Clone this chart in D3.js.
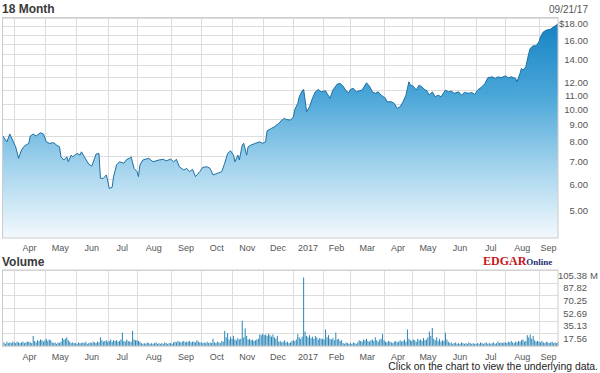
<!DOCTYPE html>
<html>
<head>
<meta charset="utf-8">
<script src="https://cdn.jsdelivr.net/npm/d3@7"></script>
<style>
  body { margin: 0; background: #fff; }
  svg { display: block; font-family: "Liberation Sans", Arial, sans-serif; }
</style>
</head>
<body>
<div id="chart"></div>
<script>
// trading calendar of the 18 month window
const startDate = "2016-03-21";
const endDate = "2017-09-21";
const holidays = ["2016-03-25", "2016-05-30", "2016-07-04", "2016-09-05", "2016-11-24", "2016-12-26",
  "2017-01-02", "2017-01-16", "2017-02-20", "2017-04-14", "2017-05-29", "2017-07-04", "2017-09-04"];

// closing price
const priceSeries = [
  ["2016-03-21", 8.05], ["2016-03-24", 7.71], ["2016-03-29", 8.13], ["2016-04-04", 7.45], ["2016-04-06", 6.89],
  ["2016-04-08", 7.29], ["2016-04-12", 7.49], ["2016-04-15", 7.63], ["2016-04-18", 8.02], ["2016-04-20", 8.13],
  ["2016-04-22", 8.02], ["2016-04-27", 8.20], ["2016-04-29", 8.13], ["2016-05-03", 7.71], ["2016-05-05", 7.63],
  ["2016-05-10", 7.66], ["2016-05-12", 7.54], ["2016-05-16", 7.45], ["2016-05-17", 6.96], ["2016-05-19", 6.81],
  ["2016-05-23", 6.96], ["2016-05-24", 6.73], ["2016-05-26", 7.04], ["2016-05-27", 6.96], ["2016-06-02", 7.12],
  ["2016-06-06", 7.04], ["2016-06-07", 7.20], ["2016-06-09", 6.96], ["2016-06-14", 6.62], ["2016-06-16", 6.53],
  ["2016-06-20", 6.89], ["2016-06-21", 7.09], ["2016-06-23", 7.12], ["2016-06-24", 6.01], ["2016-06-28", 6.01],
  ["2016-06-30", 6.15], ["2016-07-01", 5.91], ["2016-07-05", 5.61], ["2016-07-07", 5.65], ["2016-07-08", 6.08],
  ["2016-07-12", 6.58], ["2016-07-14", 6.73], ["2016-07-19", 6.66], ["2016-07-21", 6.84], ["2016-07-25", 6.89],
  ["2016-07-26", 6.96], ["2016-07-28", 6.43], ["2016-08-01", 6.29], ["2016-08-02", 6.08], ["2016-08-03", 6.58],
  ["2016-08-05", 6.81], ["2016-08-11", 6.89], ["2016-08-16", 6.73], ["2016-08-22", 6.81], ["2016-08-25", 6.84],
  ["2016-08-29", 6.77], ["2016-09-01", 6.85], ["2016-09-06", 6.73], ["2016-09-08", 6.84], ["2016-09-12", 6.50],
  ["2016-09-15", 6.36], ["2016-09-19", 6.43], ["2016-09-21", 6.29], ["2016-09-23", 6.39], ["2016-09-27", 6.08],
  ["2016-09-30", 6.29], ["2016-10-04", 6.48], ["2016-10-07", 6.50], ["2016-10-11", 6.43], ["2016-10-13", 6.15],
  ["2016-10-19", 6.24], ["2016-10-21", 6.29], ["2016-10-25", 6.66], ["2016-10-27", 7.12], ["2016-10-31", 7.25],
  ["2016-11-02", 7.04], ["2016-11-03", 6.73], ["2016-11-07", 7.04], ["2016-11-08", 6.81], ["2016-11-10", 7.54],
  ["2016-11-11", 7.63], ["2016-11-15", 7.04], ["2016-11-16", 7.45], ["2016-11-18", 7.54], ["2016-11-23", 7.63],
  ["2016-11-29", 7.71], ["2016-12-01", 7.63], ["2016-12-05", 7.71], ["2016-12-06", 8.31], ["2016-12-09", 8.45],
  ["2016-12-13", 8.54], ["2016-12-16", 8.74], ["2016-12-20", 8.94], ["2016-12-22", 9.05], ["2016-12-23", 8.98],
  ["2016-12-29", 8.94], ["2017-01-03", 9.14], ["2017-01-04", 9.62], ["2017-01-06", 10.02], ["2017-01-09", 10.48],
  ["2017-01-11", 10.92], ["2017-01-12", 11.02], ["2017-01-13", 10.25], ["2017-01-17", 9.46], ["2017-01-19", 9.79],
  ["2017-01-23", 10.37], ["2017-01-25", 10.84], ["2017-01-27", 11.02], ["2017-01-31", 10.84], ["2017-02-03", 10.92],
  ["2017-02-06", 10.73], ["2017-02-08", 10.37], ["2017-02-10", 10.97], ["2017-02-15", 11.43], ["2017-02-17", 11.48],
  ["2017-02-22", 11.27], ["2017-02-24", 10.92], ["2017-02-28", 10.77], ["2017-03-01", 11.02], ["2017-03-03", 11.10],
  ["2017-03-07", 10.84], ["2017-03-09", 10.92], ["2017-03-13", 10.97], ["2017-03-16", 11.53], ["2017-03-20", 11.27],
  ["2017-03-22", 10.84], ["2017-03-24", 10.73], ["2017-03-28", 10.84], ["2017-03-30", 10.60], ["2017-04-04", 10.37],
  ["2017-04-05", 10.13], ["2017-04-10", 10.13], ["2017-04-12", 10.02], ["2017-04-17", 9.68], ["2017-04-19", 9.79],
  ["2017-04-21", 10.13], ["2017-04-25", 10.60], ["2017-04-27", 11.61], ["2017-04-28", 11.35], ["2017-05-02", 11.27],
  ["2017-05-04", 10.97], ["2017-05-08", 11.35], ["2017-05-11", 11.10], ["2017-05-12", 10.97], ["2017-05-15", 10.97],
  ["2017-05-17", 10.60], ["2017-05-19", 10.84], ["2017-05-23", 10.48], ["2017-05-25", 10.60], ["2017-05-30", 10.48],
  ["2017-06-02", 10.97], ["2017-06-06", 10.84], ["2017-06-08", 10.90], ["2017-06-12", 10.73], ["2017-06-15", 10.84],
  ["2017-06-19", 10.60], ["2017-06-21", 10.80], ["2017-06-26", 10.73], ["2017-06-28", 10.80], ["2017-06-30", 10.65],
  ["2017-07-05", 10.97], ["2017-07-10", 11.22], ["2017-07-12", 11.48], ["2017-07-14", 11.93], ["2017-07-19", 12.01],
  ["2017-07-21", 11.88], ["2017-07-25", 12.01], ["2017-07-27", 11.93], ["2017-08-01", 12.09], ["2017-08-03", 11.93],
  ["2017-08-07", 12.01], ["2017-08-10", 11.88], ["2017-08-11", 11.61], ["2017-08-15", 12.29], ["2017-08-16", 12.72],
  ["2017-08-17", 12.57], ["2017-08-21", 12.86], ["2017-08-23", 14.09], ["2017-08-24", 14.58], ["2017-08-28", 14.84],
  ["2017-08-30", 14.84], ["2017-09-01", 15.25], ["2017-09-05", 15.78], ["2017-09-07", 16.32], ["2017-09-11", 16.51],
  ["2017-09-14", 16.63], ["2017-09-18", 16.89], ["2017-09-20", 17.09], ["2017-09-21", 17.28]
];

// daily volume in millions, one row per month
const volumeSeries = [
  4, 5, 3, 6, 4, 5, 4, 6,
  5, 4, 6, 5, 4, 5, 6, 4, 5, 6, 6, 5, 4, 14, 7, 5, 8, 7, 9, 8, 6,
  8, 10, 7, 9, 8, 5, 4, 5, 3, 5, 4, 6, 11, 9, 10, 12, 8, 6, 4, 5, 4,
  4, 3, 5, 4, 4, 5, 4, 6, 3, 4, 5, 4, 6, 5, 4, 6, 5, 12, 8, 6, 7, 8,
  6, 7, 9, 6, 8, 7, 8, 6, 7, 9, 18.5, 7, 6, 9, 7, 6, 6, 21, 9, 8,
  8, 7, 6, 4, 3, 4, 3, 5, 4, 3, 4, 3, 4, 5, 3, 4, 3, 4, 3, 5, 4, 3, 4,
  4, 3, 5, 6, 5, 7, 6, 5, 6, 7, 5, 6, 6, 7, 5, 6, 6, 5, 8, 6, 5,
  5, 4, 5, 4, 6, 4, 5, 4, 10, 5, 4, 6, 5, 4, 7, 6, 21, 12, 18, 9, 13,
  10, 14, 9, 8, 11, 9, 10, 35, 12, 24.5, 14, 9, 10, 8, 9, 7, 8, 9, 10, 16, 15,
  17, 15, 16, 14, 17, 15, 13, 16, 12, 10, 14, 6, 7, 5, 6, 8, 5, 6, 4, 5, 7,
  8, 7, 9, 16.6, 12, 10, 13, 95, 20, 14, 12, 15, 11, 13, 10, 14, 12, 9, 11, 10,
  10, 9, 23, 12, 15, 10, 9, 11, 8, 18.5, 9, 10, 7, 8, 4, 3, 5, 4, 3,
  4, 3, 5, 4, 3, 5, 8, 7, 6, 9, 8, 10, 7, 6, 8, 9, 7, 12, 8, 6, 9, 10, 16.6,
  8, 6, 5, 7, 6, 5, 4, 6, 7, 5, 6, 8, 6, 7, 9, 6, 23, 10, 8,
  7, 9, 8, 6, 10, 8, 9, 7, 11, 8, 9, 12, 20, 14, 25, 10, 8, 12, 7, 10, 6, 8,
  7, 18.5, 9, 6, 4, 5, 3, 4, 5, 3, 4, 3, 5, 4, 3, 4, 3, 5, 4, 3, 4, 3,
  3, 4, 3, 5, 4, 3, 4, 5, 3, 4, 3, 4, 5, 3, 4, 6, 4, 5, 4, 5,
  5, 4, 6, 5, 7, 5, 4, 6, 5, 7, 6, 8, 9, 6, 7, 15, 12, 16, 10, 14, 8, 6, 7,
  6, 5, 7, 5, 4, 6, 5, 4, 5, 6, 4, 5, 4, 6
];

const monthNames = ["2017", "Feb", "Mar", "Apr", "May", "Jun", "Jul", "Aug", "Sep", "Oct", "Nov", "Dec"];
const priceTicks = [5, 6, 7, 8, 9, 10, 11, 12, 14, 16, 18];
const priceGrid = [5, 6, 7, 8, 9, 10, 11, 12, 13, 14, 15, 16, 17, 18];
const volumeTicks = [17.56, 35.13, 52.69, 70.25, 87.82, 105.38];

const W = 600, H = 373;
const left = 2.5, right = 558;
const pTop = 17.5, pBottom = 238;
const vTop = 270, vBottom = 346;

const parse = d3.timeParse("%Y-%m-%d");
const fmt = d3.timeFormat("%Y-%m-%d");
const holidaySet = new Set(holidays);
const tradingDays = d3.timeDay.range(parse(startDate), d3.timeDay.offset(parse(endDate), 1))
  .filter(d => d.getDay() !== 0 && d.getDay() !== 6 && !holidaySet.has(fmt(d)));
const dayIndex = new Map(tradingDays.map((d, i) => [fmt(d), i]));

const x = d3.scaleLinear().domain([0, tradingDays.length - 1]).range([left, right]);
const y = d3.scaleLog().domain([4, 18]).range([pBottom, pTop]);
const yv = d3.scaleLinear().domain([0, 105.38]).range([vBottom, vTop]);

// first trading day of each month -> grid lines, labels centred between them
const monthStarts = [];
tradingDays.forEach((d, i) => {
  if (i > 0 && d.getMonth() !== tradingDays[i - 1].getMonth()) monthStarts.push(i);
});
const monthLabels = monthStarts.map((s, k) => {
  const e = k + 1 < monthStarts.length ? monthStarts[k + 1] : tradingDays.length - 1;
  return { pos: (s + e) / 2, text: monthNames[tradingDays[s].getMonth()] };
});

const svg = d3.select("#chart").append("svg")
  .attr("width", W).attr("height", H)
  .attr("viewBox", `0 0 ${W} ${H}`);

const defs = svg.append("defs");
const grad = defs.append("linearGradient")
  .attr("id", "areaFill")
  .attr("gradientUnits", "userSpaceOnUse")
  .attr("x1", 0).attr("y1", pTop).attr("x2", 0).attr("y2", pBottom);
grad.append("stop").attr("offset", "0%").attr("stop-color", "#1280c2");
grad.append("stop").attr("offset", "35%").attr("stop-color", "#4aa6d8");
grad.append("stop").attr("offset", "70%").attr("stop-color", "#a9d6ee");
grad.append("stop").attr("offset", "100%").attr("stop-color", "#f3f9fd");

defs.append("clipPath").attr("id", "priceClip")
  .append("rect").attr("x", left).attr("y", pTop).attr("width", right - left).attr("height", pBottom - pTop);

function panelGrid(top, bottom, yLines) {
  const g = svg.append("g");
  g.selectAll("line.h").data(yLines).enter().append("line")
    .attr("x1", left).attr("x2", right)
    .attr("y1", d => Math.round(d) + 0.5).attr("y2", d => Math.round(d) + 0.5)
    .attr("stroke", "#dddddd").attr("stroke-width", 1);
  g.selectAll("line.v").data(monthStarts).enter().append("line")
    .attr("x1", d => Math.round(x(d)) + 0.5).attr("x2", d => Math.round(x(d)) + 0.5)
    .attr("y1", top).attr("y2", bottom)
    .attr("stroke", "#dddddd").attr("stroke-width", 1);
  return g;
}

function monthAxis(yPos) {
  svg.append("g").selectAll("text").data(monthLabels).enter().append("text")
    .attr("x", d => x(d.pos))
    .attr("y", yPos)
    .attr("text-anchor", "middle")
    .attr("font-size", 9)
    .attr("fill", "#555")
    .text(d => d.text);
}

// ---- price panel
panelGrid(pTop, pBottom, priceGrid.map(v => y(v)));

const pts = priceSeries.map(([d, v]) => ({ i: dayIndex.get(d), v }));
const area = d3.area().x(d => x(d.i)).y0(pBottom).y1(d => y(d.v));
const line = d3.line().x(d => x(d.i)).y(d => y(d.v));

svg.append("path").datum(pts)
  .attr("clip-path", "url(#priceClip)")
  .attr("d", area)
  .attr("fill", "url(#areaFill)");
svg.append("path").datum(pts)
  .attr("clip-path", "url(#priceClip)")
  .attr("d", line)
  .attr("fill", "none")
  .attr("stroke", "#1f6fa0")
  .attr("stroke-width", 1);

svg.append("rect")
  .attr("x", left).attr("y", pTop).attr("width", right - left).attr("height", pBottom - pTop)
  .attr("fill", "none").attr("stroke", "#cccccc");

svg.append("g").selectAll("text").data(priceTicks).enter().append("text")
  .attr("x", 588)
  .attr("y", d => y(d) + 9)
  .attr("text-anchor", "end")
  .attr("font-size", 9.5)
  .attr("fill", "#555")
  .text(d => (d === 18 ? "$" : "") + d.toFixed(2));

svg.append("text").attr("x", 2).attr("y", 13)
  .attr("font-size", 12).attr("font-weight", "bold").attr("fill", "#3a3a3a")
  .text("18 Month");
svg.append("text").attr("x", 588).attr("y", 13)
  .attr("text-anchor", "end").attr("font-size", 10).attr("fill", "#555")
  .text("09/21/17");

monthAxis(251);

// ---- logo
const logo = svg.append("text").attr("x", 483).attr("y", 265)
  .attr("font-family", "'Liberation Serif', 'Times New Roman', serif").attr("font-weight", "bold");
logo.append("tspan").attr("font-size", 12).attr("fill", "#c4161c").text("EDGAR");
logo.append("tspan").attr("font-size", 9).attr("fill", "#1d2f6f").text("Online");

// ---- volume panel
svg.append("text").attr("x", 2).attr("y", 266)
  .attr("font-size", 12).attr("font-weight", "bold").attr("fill", "#3a3a3a")
  .text("Volume");

panelGrid(vTop, vBottom, [0].concat(volumeTicks).map(v => yv(v)));

svg.append("g").selectAll("rect").data(volumeSeries.slice(0, tradingDays.length)).enter().append("rect")
  .attr("x", (d, i) => x(i) - 0.5)
  .attr("width", 1)
  .attr("y", d => yv(d))
  .attr("height", d => vBottom - yv(d))
  .attr("fill", "#2a86b8");

svg.append("rect")
  .attr("x", left).attr("y", vTop).attr("width", right - left).attr("height", vBottom - vTop)
  .attr("fill", "none").attr("stroke", "#cccccc");

svg.append("g").selectAll("text").data(volumeTicks).enter().append("text")
  .attr("x", 587)
  .attr("y", d => yv(d) + 8.5)
  .attr("text-anchor", "end")
  .attr("font-size", 9.5)
  .attr("fill", "#555")
  .text(d => d.toFixed(2));
svg.append("text").attr("x", 590).attr("y", yv(105.38) + 8.5)
  .attr("font-size", 9.5).attr("fill", "#555").text("M");

monthAxis(360);

svg.append("text").attr("x", 598).attr("y", 370)
  .attr("text-anchor", "end").attr("font-size", 10.4).attr("fill", "#222")
  .text("Click on the chart to view the underlying data.");
</script>
</body>
</html>
